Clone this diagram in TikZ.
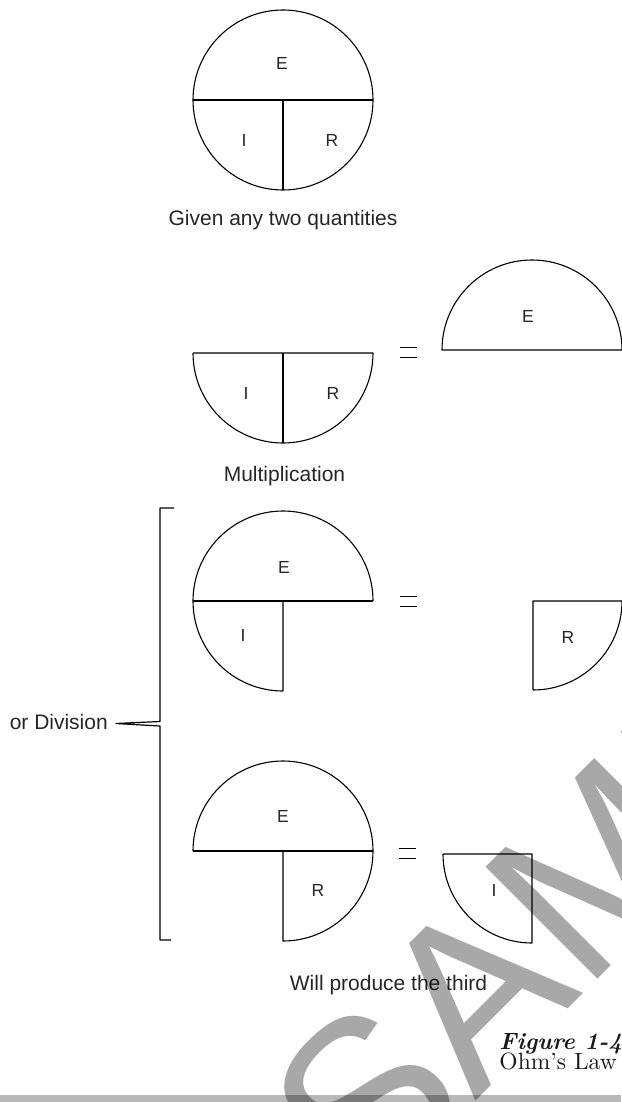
\documentclass[tikz,border=0pt]{standalone}
\usepackage{fontspec}
\newfontfamily\labelfont{Liberation Sans}
\begin{document}
\begin{tikzpicture}[x=1pt,y=-1pt,line join=round]
\tikzset{
  outline/.style={draw=black, line width=1.1pt},
  divider/.style={draw=black, line width=1.9pt},
  eqline/.style={draw=black, line width=0.9pt},
  letter/.style={inner sep=0pt, text=black!85, font=\labelfont\fontsize{17.5}{20}\selectfont},
  caption/.style={inner sep=0pt, anchor=base, text=black!85, font=\labelfont\fontsize{21}{24}\selectfont},
  figtitle/.style={inner sep=0pt, anchor=base west, text=black!90, scale=2.35},
}
\useasboundingbox (0,0) rectangle (621,1102);
\fill[white] (0,0) rectangle (621,1102);
% page rule at the foot
\fill[black!28] (0,1095) rectangle (621,1102);

% ---- the full circle
\draw[outline] (283,100) circle[radius=90];
\draw[outline] (193,100) -- (373,100);
\draw[outline] (283,100) -- (283,190);
\node[letter] (e1) at (282,63) {E};
\node[letter] (i1) at (244,140) {I};
\node[letter] (r1) at (332,140) {R};
\node[caption] (given) at (283,225.5) {Given any two quantities};

% ---- multiplication: I x R = E
\draw[outline] (193,353) -- (373,353) arc[start angle=0, end angle=180, radius=90];
\draw[outline] (283,353) -- (283,443);
\node[letter] (i2) at (246,393) {I};
\node[letter] (r2) at (333,393) {R};
\draw[eqline] (399.5,347) -- (416.5,347);
\draw[eqline] (399.5,357.5) -- (416.5,357.5);
\draw[outline] (442,350) arc[start angle=180, end angle=360, radius=90] -- cycle;
\node[letter] (e2) at (528,316) {E};
\node[caption] (mult) at (284.5,481) {Multiplication};

% ---- division: E / I = R
\draw[outline] (193,601) arc[start angle=180, end angle=360, radius=90];
\draw[outline] (193,601) arc[start angle=180, end angle=90, radius=90] -- (283,601);
\draw[divider] (193,601) -- (373,601);
\node[letter] (e3) at (284,567) {E};
\node[letter] (i3) at (243,635) {I};
\draw[eqline] (399.5,596) -- (416.5,596);
\draw[eqline] (399.5,606.5) -- (416.5,606.5);
\draw[outline] (533,690) -- (533,601) -- (622,601) arc[start angle=0, end angle=90, radius=89];
\node[letter] (r3) at (568,637) {R};

% ---- division: E / R = I
\draw[outline] (193,851) arc[start angle=180, end angle=360, radius=90];
\draw[outline] (373,851) arc[start angle=0, end angle=90, radius=90] -- (283,851);
\draw[divider] (193,851) -- (373,851);
\node[letter] (e4) at (283,816) {E};
\node[letter] (r4) at (318,890) {R};
\draw[eqline] (398.5,848) -- (415.5,848);
\draw[eqline] (398.5,858.5) -- (415.5,858.5);
\draw[outline] (443,854) -- (532,854) -- (532,943) arc[start angle=90, end angle=180, radius=89];
\node[letter] (i4) at (494,890) {I};
\node[caption] (third) at (388.5,990) {Will produce the third};

% ---- brace gathering the two divisions
\node[caption, anchor=base east] (ordiv) at (108,729.5) {or Division};
\coordinate (tip) at (116,723.5);
\draw[outline, line width=1.2pt] (174,508) -- (160,508) -- (160,721.5) -- (tip)
      -- (160,726) -- (160,940) -- (171,940);

% ---- figure title
\node[figtitle, font=\rmfamily\bfseries\itshape\fontsize{10}{12}\selectfont] (fig) at (499,1049) {Figure 1-4};
\node[figtitle, font=\rmfamily\fontsize{10}{12}\selectfont] (ohm) at (499,1069) {Ohm’s Law};

% ---- watermark
\node[rotate=45, anchor=base west, inner sep=0pt, text=black, opacity=0.34,
      font=\labelfont\fontsize{230}{230}\selectfont] (mark) at (367,1210) {SAMPLE};
\end{tikzpicture}
\end{document}
